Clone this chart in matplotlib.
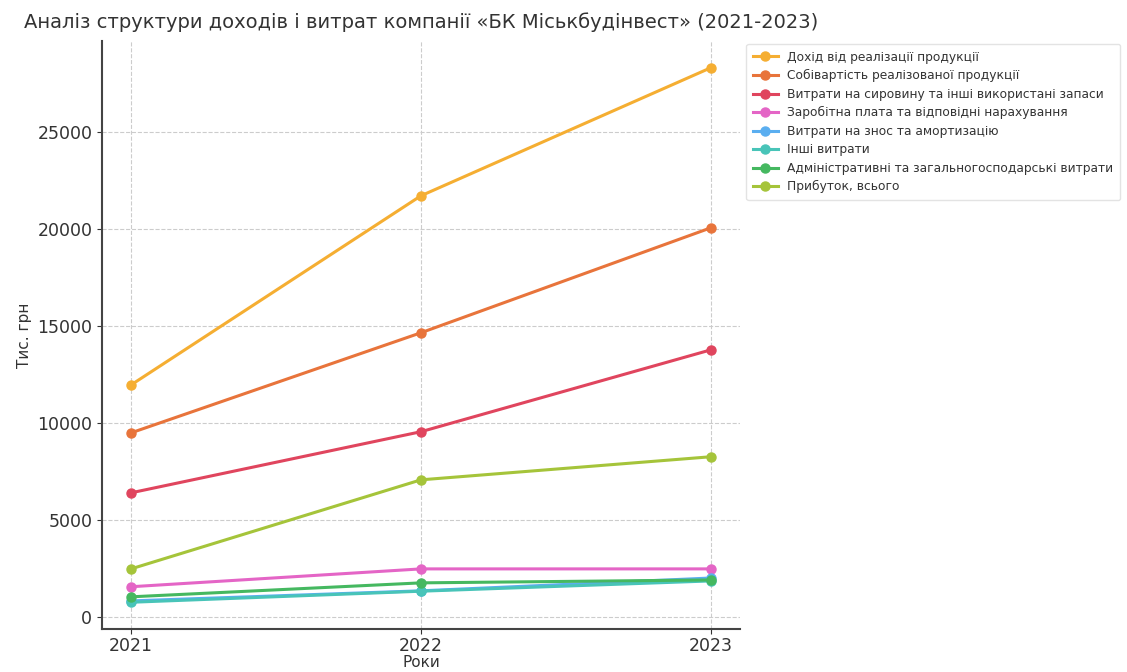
import matplotlib
matplotlib.use("Agg")
import matplotlib.pyplot as plt

years = [2021, 2022, 2023]

series_names = [
    "Дохід від реалізації продукції",
    "Собівартість реалізованої продукції",
    "Витрати на сировину та інші використані запаси",
    "Заробітна плата та відповідні нарахування",
    "Витрати на знос та амортизацію",
    "Інші витрати",
    "Адміністративні та загальногосподарські витрати",
    "Прибуток, всього",
]

revenue = [11950, 21700, 28300]
cost_of_sales = [9480, 14640, 20050]
raw_materials = [6390, 9540, 13760]
wages = [1550, 2470, 2470]
depreciation = [820, 1340, 2000]
other_expenses = [750, 1320, 1850]
admin_expenses = [1030, 1750, 1900]
profit = [2470, 7060, 8250]

values = [revenue, cost_of_sales, raw_materials, wages,
          depreciation, other_expenses, admin_expenses, profit]

colors = ["#f5ae32", "#e8743b", "#e0455e", "#e465c6",
          "#5aaef0", "#48c4b8", "#45b860", "#a5c43a"]

fig = plt.figure(figsize=(11.27, 6.72), dpi=100)
ax = fig.add_axes([0.0905, 0.0640, 0.566, 0.875])

for name, vals, c in zip(series_names, values, colors):
    ax.plot(years, vals, marker="o", color=c, linewidth=2.2,
            markersize=6.5, label=name)

ax.set_title("Аналіз структури доходів і витрат компанії «БК Міськбудінвест» (2021-2023)",
             fontsize=14, color="#333333", pad=9)
ax.set_xlabel("Роки", fontsize=11, color="#333333", labelpad=0)
ax.set_ylabel("Тис. грн", fontsize=11, color="#333333")
ax.set_xticks(years)
ax.tick_params(axis="both", labelsize=12.5, colors="#333333")
ax.tick_params(axis="x", pad=2.5)
ax.grid(True, linestyle="--", color="#cccccc", linewidth=0.8)
ax.spines["top"].set_visible(False)
ax.spines["right"].set_visible(False)
ax.spines["left"].set_color("#444444")
ax.spines["bottom"].set_color("#444444")
ax.spines["left"].set_linewidth(1.5)
ax.spines["bottom"].set_linewidth(1.5)

fig.legend(loc="upper left", bbox_to_anchor=(0.659, 0.94), fontsize=8.8,
           frameon=True, edgecolor="#dddddd", labelcolor="#333333",
           handlelength=2.0, borderpad=0.55, labelspacing=0.45,
           borderaxespad=0.3)

fig.savefig("out.png", dpi=100)
